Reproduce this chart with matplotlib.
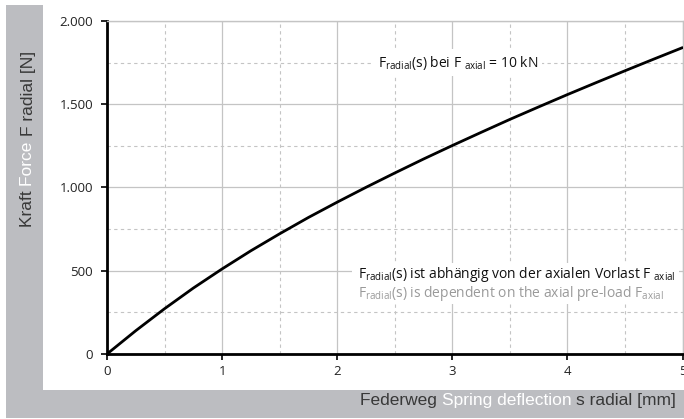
import matplotlib
matplotlib.use("Agg")
import matplotlib.pyplot as plt
from matplotlib.patches import Rectangle
from matplotlib.ticker import MultipleLocator

# ---- data ----
s_mm = [0, 0.25, 0.5, 0.75, 1.0, 1.25, 1.5, 1.75, 2.0, 2.25, 2.5, 2.75,
        3.0, 3.25, 3.5, 3.75, 4.0, 4.25, 4.5, 4.75, 5.0]
f_radial = [0, 140, 272, 396, 511, 620, 722, 820, 912, 1001, 1087, 1171,
            1252, 1331, 1409, 1484, 1558, 1630, 1701, 1771, 1840]
x_ticks = [0, 1, 2, 3, 4, 5]
y_ticks = [0, 500, 1000, 1500, 2000]
y_tick_labels = ["0", "500", "1.000", "1.500", "2.000"]

W, H = 684, 419
plt.rcParams['font.family'] = ['Open Sans', 'DejaVu Sans']
plt.rcParams['mathtext.fontset'] = 'custom'
plt.rcParams['mathtext.rm'] = 'Open Sans'
plt.rcParams['mathtext.it'] = 'Open Sans'

fig = plt.figure(figsize=(W / 100, H / 100), dpi=100)
fig.patch.set_facecolor('white')

def fx(px):
    return px / W

def fy(py):
    return 1 - py / H

gray = '#bcbdc1'
fig.add_artist(Rectangle((fx(6), fy(418)), fx(43) - fx(6), fy(5) - fy(418),
                         transform=fig.transFigure, color=gray, zorder=0, lw=0))
fig.add_artist(Rectangle((fx(6), fy(418)), fx(684) - fx(6), fy(390) - fy(418),
                         transform=fig.transFigure, color=gray, zorder=0, lw=0))

ax = fig.add_axes([fx(107), fy(354), fx(682.5) - fx(107), fy(21) - fy(354)])
ax.set_xlim(0, 5)
ax.set_ylim(0, 2000)

ax.plot(s_mm, f_radial, color='black', lw=2.0, zorder=3, solid_capstyle='round',
        solid_joinstyle='round')

ax.set_xticks(x_ticks)
ax.set_yticks(y_ticks)
ax.set_yticklabels(y_tick_labels)
ax.xaxis.set_minor_locator(MultipleLocator(0.5))
ax.yaxis.set_minor_locator(MultipleLocator(250))
ax.grid(which='major', color='#c4c4c4', lw=0.9, ls='-')
ax.grid(which='minor', color='#c4c4c4', lw=0.8, ls=(0, (3, 3)))
ax.set_axisbelow(True)
ax.tick_params(which='major', direction='out', length=4, width=1.2, color='black',
               labelsize=9.5, labelcolor='#222222')
ax.tick_params(axis='y', pad=6)
ax.tick_params(axis='x', pad=4)
ax.tick_params(which='minor', length=0)
for side in ['left', 'bottom']:
    ax.spines[side].set_color('black')
    ax.spines[side].set_linewidth(2)
for side in ['top', 'right']:
    ax.spines[side].set_color('#c4c4c4')
    ax.spines[side].set_linewidth(1)

# annotations
ax.text(3.05, 1750, r"F$_{\mathrm{radial}}$(s) bei F ${}_{\mathrm{axial}}$ = 10 kN",
        fontsize=10, color='#111111', ha='center', va='center', zorder=4,
        bbox=dict(facecolor='white', edgecolor='none', pad=3))
ax.add_patch(Rectangle((2.13, 300), 4.97 - 2.13, 545 - 300, facecolor='white',
                       edgecolor='none', zorder=2.5))
ax.text(2.18, 480, r"F$_{\mathrm{radial}}$(s) ist abhängig von der axialen Vorlast F ${}_{\mathrm{axial}}$",
        fontsize=10, color='#111111', ha='left', va='center', zorder=5)
ax.text(2.18, 366, r"F$_{\mathrm{radial}}$(s) is dependent on the axial pre-load F$_{\mathrm{axial}}$",
        fontsize=10, color='#9a9a9a', ha='left', va='center', zorder=5)

# mixed-colour axis labels
dark = '#383838'
lab_font = dict(family=['Liberation Sans', 'DejaVu Sans'], fontsize=12.5)

fig.canvas.draw()
renderer = fig.canvas.get_renderer()

def width_px(s):
    t = fig.text(0, 0, s + "|", **lab_font)
    b = fig.text(0, 0, "|", **lab_font)
    w = t.get_window_extent(renderer).width - b.get_window_extent(renderer).width
    t.remove(); b.remove()
    return w

# x label (right-aligned at px 676, baseline at 405)
xpieces = [("Federweg ", dark), ("Spring deflection ", 'white'), ("s radial [mm]", dark)]
full = "".join(p for p, _ in xpieces)
total = width_px(full)
x0 = 676 - total
pref = ""
for txt, col in xpieces:
    off = width_px(pref) if pref else 0
    fig.text(fx(x0 + off), fy(405), txt, color=col, ha='left', va='baseline', **lab_font)
    pref += txt

# y label (rotated, baseline at px x=32.5, starting at y=227 going up)
ypieces = [("Kraft ", dark), ("Force ", 'white'), ("F radial [N]", dark)]
pref = ""
for txt, col in ypieces:
    off = width_px(pref) if pref else 0
    fig.text(fx(32.5), fy(227 - off), txt, color=col, rotation=90, rotation_mode='anchor',
             ha='left', va='baseline', **lab_font)
    pref += txt

fig.savefig("out.png", dpi=100, facecolor='white')
